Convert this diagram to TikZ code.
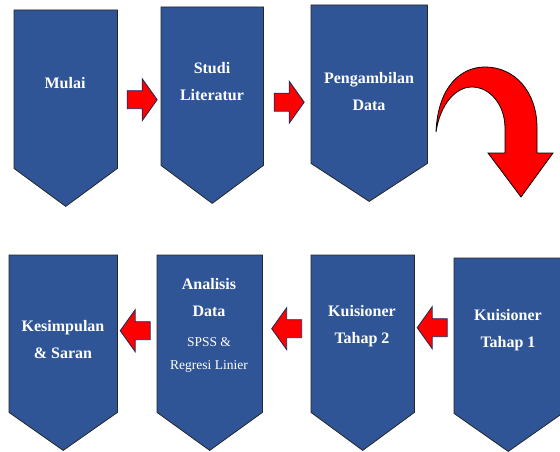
\documentclass[tikz,border=0pt]{standalone}
\usepackage{fontspec}
\setmainfont{Liberation Serif}
\newfontfamily\timesfont{Liberation Serif}
\usetikzlibrary{calc, positioning}
\usepackage{xcolor}
\definecolor{boxblue}{HTML}{2F5597}
\definecolor{arrowred}{HTML}{FF0000}
\definecolor{rimnavy}{HTML}{1F2A55}

\tikzset{
    body/.style={inner sep=0pt, anchor=north west},
    chev/.style={draw=black!85, line width=0.8pt, fill=boxblue},
    steptext/.style={text=white, align=center, inner sep=0pt, font=\timesfont\fontsize{16}{27}\selectfont\bfseries},
    subtext/.style={text=white, align=center, inner sep=0pt, font=\timesfont\fontsize{13.5}{23}\selectfont},
    blkarrow/.style={draw=rimnavy, line width=0.8pt, fill=arrowred, line join=miter},
    blk/.pic={\path[blkarrow] (-15,-9) -- (0,-9) -- (0,-21) -- (15,0) -- (0,21) -- (0,9) -- (-15,9) -- cycle;},
}

\begin{document}
\begin{tikzpicture}[x=1pt, y=-1pt]
\useasboundingbox (0,0) rectangle (560,452);

% top row
\node[body, minimum width=103pt, minimum height=158pt] (mulai) at (14,10) {};
\node[body, minimum width=102pt, minimum height=158pt] (studi) at (161,7) {};
\node[body, minimum width=116pt, minimum height=158pt] (ambil) at (311,5) {};
% bottom row
\node[body, minimum width=108pt, minimum height=157pt] (simpul) at (9,255) {};
\node[body, minimum width=105pt, minimum height=157pt] (analisis) at (157,255) {};
\node[body, minimum width=103pt, minimum height=157pt] (tahap2) at (311,255) {};
\node[body, minimum width=108pt, minimum height=155pt] (tahap1) at (454,258) {};

\foreach \b in {mulai,studi,ambil,simpul,analisis,tahap2,tahap1}
    \draw[chev] (\b.north west) -- (\b.north east) -- (\b.south east)
        -- ([yshift=-38pt]\b.south) -- (\b.south west) -- cycle;

\node[steptext] (mulai-t) at (65,83) {Mulai};
\node[steptext] (studi-t) at (212,82) {Studi\\Literatur};
\node[steptext] (ambil-t) at (369,92) {Pengambilan\\Data};
\node[steptext] (simpul-t) at (63,340) {Kesimpulan\\\& Saran};
\node[steptext] (analisis-t) at (209,298) {Analisis\\Data};
\node[subtext, below=20pt of analisis-t] (analisis-s) {SPSS \&\\Regresi Linier};
\node[steptext] (tahap2-t) at (362,326) {Kuisioner\\Tahap 2};
\node[steptext] (tahap1-t) at (508,330) {Kuisioner\\Tahap 1};

% block arrows
\pic at ($(mulai.east)!.5!(studi.west)+(3,12)$) {blk};
\pic at ($(studi.east)!.5!(ambil.west)+(2,17)$) {blk};
\pic[rotate=180] at ($(simpul.east)!.5!(analisis.west)+(-2,-3)$) {blk};
\pic[rotate=180] at ($(analisis.east)!.5!(tahap2.west)+(0,-5)$) {blk};
\pic[rotate=180] at ($(tahap2.east)!.5!(tahap1.west)+(-2,-7)$) {blk};

% turn down to second row
\path[blkarrow, draw=black] (436,132) .. controls (438,85) and (462,67) .. (485,67)
    .. controls (515,67) and (537,92) .. (537,128) -- (537,153) -- (553,153)
    -- (521,197) -- (488,153) -- (505,153) -- (505,128)
    .. controls (505,105) and (490,87) .. (472,87)
    .. controls (455,87) and (440,105) .. (436,132) -- cycle;

\end{tikzpicture}
\end{document}
